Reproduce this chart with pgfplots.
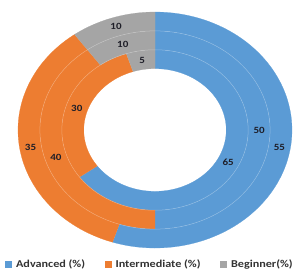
\documentclass[border=0pt]{standalone}
\usepackage{pgfplots}
\pgfplotsset{compat=1.18}
\usepackage{fontspec}
\setmainfont{Carlito}
\newfontfamily\stretchfont[FakeStretch=1.16]{Carlito}
\definecolor{adv}{HTML}{5B9BD5}
\definecolor{intm}{HTML}{ED7D31}
\definecolor{beg}{HTML}{A5A5A5}
\definecolor{labc}{HTML}{1E1E28}
\definecolor{legc}{HTML}{333333}

% one annular segment: colour, r_in, r_out, start %, end %, label
\newcommand{\seg}[6]{%
  \addplot[fill=#1, draw=#1, line width=0.2pt, domain=0:201, samples=202, variable=\t, forget plot]
    ({(\t<100.5 ? #3 : #2)*sin(\t<100.5 ? 3.6*(#4)+3.6*((#5)-(#4))*\t/100 : 3.6*(#5)-3.6*((#5)-(#4))*(\t-101)/100)},
     {(\t<100.5 ? #3 : #2)*cos(\t<100.5 ? 3.6*(#4)+3.6*((#5)-(#4))*\t/100 : 3.6*(#5)-3.6*((#5)-(#4))*(\t-101)/100)});
  \node[font=\stretchfont\bfseries\fontsize{9.5}{9.5}\selectfont, text=labc, inner sep=0pt]
    at (axis cs:{(#2+#3)/2*sin(1.8*(#4+#5))},{(#2+#3)/2*cos(1.8*(#4+#5))}) {#6};
}
% one ring: r_in, r_out, Advanced, Intermediate, Beginner
\newcommand{\ring}[5]{%
  \seg{adv}{#1}{#2}{0}{#3}{#3}
  \seg{intm}{#1}{#2}{#3}{#3+#4}{#4}
  \seg{beg}{#1}{#2}{#3+#4}{100}{#5}
}

\begin{document}
\begin{tikzpicture}
\path[use as bounding box] (-18pt,-23pt) rectangle (278pt,248pt);
\begin{axis}[
  scale only axis, width=274pt, height=236pt,
  xmin=-1, xmax=1, ymin=-1, ymax=1,
  hide axis, clip=false,
  legend columns=3,
  legend style={draw=none, fill=none, inner sep=0pt, at={(-0.0474,-0.068)}, anchor=west,
    font=\stretchfont\bfseries\fontsize{10.5}{12}\selectfont, text=legc,
    /tikz/every even column/.append style={column sep=15pt},
    nodes={inner xsep=4.5pt}},
]
\addlegendimage{legend image code/.code={\fill[adv] (0pt,-3pt) rectangle (6pt,3pt);}}
\addlegendentry{Advanced (\%)}
\addlegendimage{legend image code/.code={\fill[intm] (0pt,-3pt) rectangle (6pt,3pt);}}
\addlegendentry{Intermediate (\%)}
\addlegendimage{legend image code/.code={\fill[beg] (0pt,-3pt) rectangle (6pt,3pt);}}
\addlegendentry{Beginner(\%)}

\ring{0.52}{0.68}{65}{30}{5}
\ring{0.68}{0.84}{50}{40}{10}
\ring{0.84}{1.00}{55}{35}{10}

\addplot[white, opacity=0.3, line width=0.5pt, domain=0:360, samples=181, forget plot] ({0.68*sin(x)},{0.68*cos(x)});
\addplot[white, opacity=0.3, line width=0.5pt, domain=0:360, samples=181, forget plot] ({0.84*sin(x)},{0.84*cos(x)});
\end{axis}
\end{tikzpicture}
\end{document}
